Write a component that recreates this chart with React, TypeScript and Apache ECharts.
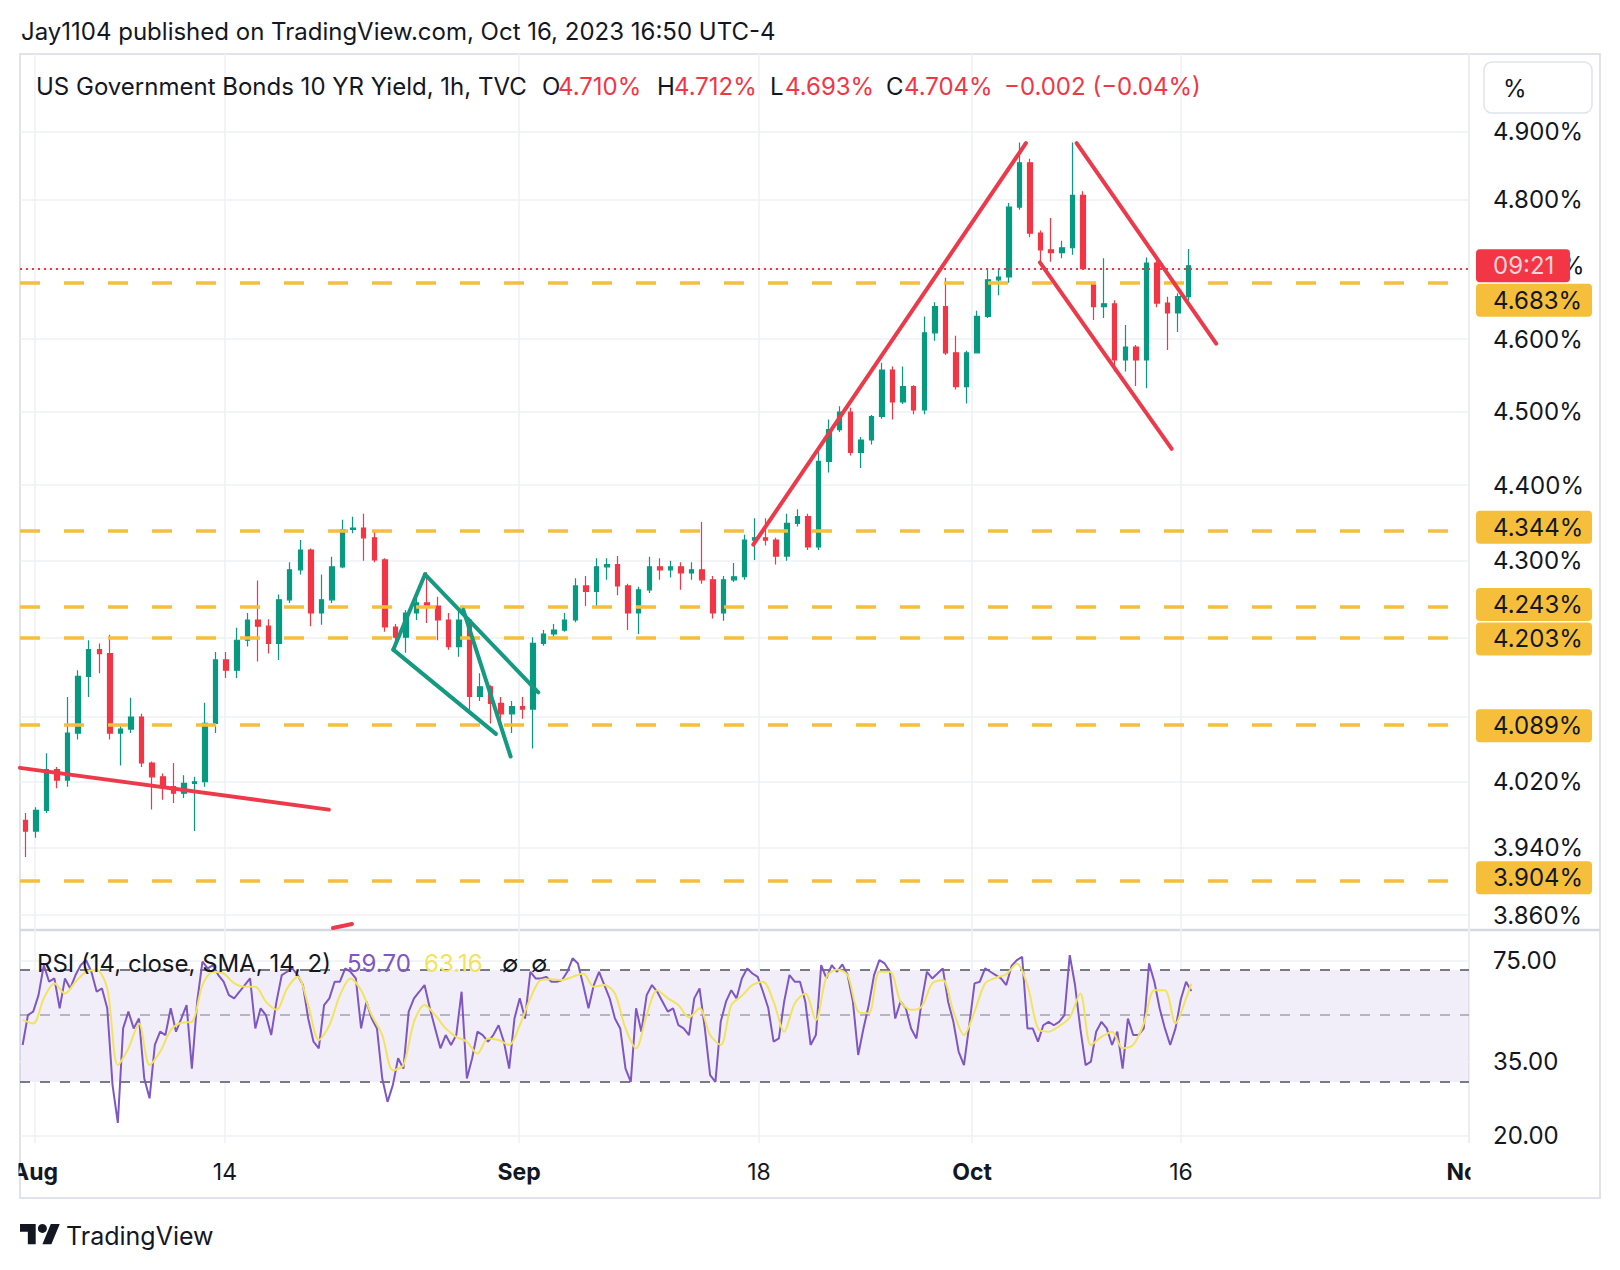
import React, { useEffect, useRef } from "react";
import * as echarts from "echarts";

// ---------- data (half-session OHLC) ----------
const opens = [
  3.973, 3.96, 3.985, 4.035, 4.022, 4.08, 4.151, 4.185, 4.18, 4.08,
  4.085, 4.1, 4.043, 4.026, 4.014, 4.006, 4.018, 4.02, 4.092, 4.172,
  4.159, 4.197, 4.223, 4.215, 4.193, 4.249, 4.288, 4.314, 4.232, 4.249,
  4.292, 4.341, 4.343, 4.33, 4.301, 4.214, 4.201, 4.232, 4.245, 4.241,
  4.223, 4.189, 4.223, 4.126, 4.138, 4.117, 4.104, 4.113, 4.11, 4.193,
  4.205, 4.21, 4.223, 4.267, 4.26, 4.292, 4.295, 4.267, 4.232, 4.262,
  4.292, 4.288, 4.292, 4.284, 4.288, 4.275, 4.232, 4.275, 4.279, 4.327,
  4.33, 4.327, 4.306, 4.349, 4.358, 4.318, 4.432, 4.475, 4.499, 4.444,
  4.461, 4.493, 4.557, 4.513, 4.534, 4.502, 4.609, 4.646, 4.581, 4.534,
  4.581, 4.632, 4.684, 4.688, 4.789, 4.854, 4.751, 4.727, 4.723, 4.73,
  4.806, 4.678, 4.646, 4.65, 4.571, 4.589, 4.571, 4.708, 4.651, 4.637, 4.66,
];
const highs = [
  3.982, 3.989, 4.055, 4.038, 4.125, 4.159, 4.197, 4.193, 4.204, 4.09,
  4.124, 4.104, 4.045, 4.03, 4.043, 4.028, 4.026, 4.118, 4.182, 4.182,
  4.213, 4.232, 4.274, 4.224, 4.256, 4.298, 4.327, 4.316, 4.282, 4.305,
  4.354, 4.358, 4.362, 4.338, 4.303, 4.218, 4.236, 4.252, 4.285, 4.253,
  4.232, 4.236, 4.226, 4.155, 4.14, 4.125, 4.12, 4.125, 4.201, 4.21,
  4.218, 4.232, 4.277, 4.28, 4.303, 4.303, 4.306, 4.27, 4.266, 4.305,
  4.303, 4.3, 4.298, 4.298, 4.351, 4.28, 4.28, 4.297, 4.334, 4.356,
  4.356, 4.33, 4.362, 4.368, 4.362, 4.445, 4.489, 4.507, 4.505, 4.465,
  4.495, 4.567, 4.562, 4.562, 4.536, 4.632, 4.652, 4.687, 4.605, 4.584,
  4.64, 4.698, 4.7, 4.795, 4.884, 4.86, 4.755, 4.773, 4.74, 4.884,
  4.812, 4.68, 4.715, 4.655, 4.62, 4.592, 4.716, 4.716, 4.66, 4.665, 4.728,
];
const lows = [
  3.929, 3.952, 3.982, 4.012, 4.014, 4.072, 4.125, 4.155, 4.072, 4.04,
  4.08, 4.038, 3.986, 3.998, 3.994, 4.0, 3.96, 4.014, 4.08, 4.149,
  4.149, 4.189, 4.17, 4.18, 4.172, 4.245, 4.282, 4.215, 4.217, 4.245,
  4.29, 4.336, 4.3, 4.298, 4.208, 4.187, 4.181, 4.223, 4.219, 4.197,
  4.185, 4.176, 4.109, 4.12, 4.092, 4.085, 4.08, 4.098, 4.061, 4.19,
  4.2, 4.208, 4.22, 4.241, 4.241, 4.275, 4.255, 4.21, 4.205, 4.258,
  4.275, 4.278, 4.262, 4.275, 4.27, 4.225, 4.222, 4.272, 4.275, 4.301,
  4.32, 4.295, 4.3, 4.345, 4.314, 4.314, 4.417, 4.472, 4.44, 4.423,
  4.455, 4.49, 4.489, 4.51, 4.496, 4.496, 4.598, 4.578, 4.53, 4.511,
  4.58, 4.63, 4.662, 4.68, 4.785, 4.745, 4.71, 4.71, 4.715, 4.72,
  4.7, 4.627, 4.63, 4.555, 4.555, 4.535, 4.532, 4.645, 4.585, 4.61, 4.655,
];
const closes = [
  3.96, 3.985, 4.035, 4.022, 4.08, 4.151, 4.185, 4.18, 4.08, 4.085,
  4.1, 4.043, 4.026, 4.014, 4.006, 4.018, 4.02, 4.092, 4.172, 4.159,
  4.197, 4.223, 4.215, 4.193, 4.249, 4.288, 4.314, 4.232, 4.249, 4.292,
  4.341, 4.343, 4.33, 4.301, 4.214, 4.201, 4.232, 4.245, 4.241, 4.223,
  4.189, 4.223, 4.126, 4.138, 4.117, 4.104, 4.113, 4.11, 4.193, 4.205,
  4.21, 4.223, 4.267, 4.26, 4.292, 4.295, 4.267, 4.232, 4.262, 4.292,
  4.288, 4.292, 4.284, 4.288, 4.275, 4.232, 4.275, 4.279, 4.327, 4.33,
  4.327, 4.306, 4.349, 4.358, 4.318, 4.432, 4.475, 4.499, 4.444, 4.461,
  4.493, 4.557, 4.513, 4.534, 4.502, 4.609, 4.646, 4.581, 4.534, 4.581,
  4.632, 4.684, 4.688, 4.789, 4.854, 4.751, 4.727, 4.723, 4.73, 4.806,
  4.7, 4.646, 4.65, 4.571, 4.589, 4.571, 4.708, 4.651, 4.637, 4.66, 4.704,
];

// RSI(14): two samples per half-session slot
const rsiValues = [
  39.7, 49.8, 51.1, 57.9, 72.7, 64.1, 65.7, 52.4, 65.7, 60.9,
  67.4, 72.7, 75.5, 69.1, 59.4, 60.9, 52.4, 29.3, 22.0, 45.0,
  51.1, 45.0, 48.5, 30.8, 26.5, 39.7, 43.9, 42.8, 52.4, 43.9,
  48.5, 53.7, 33.2, 55.1, 74.6, 70.9, 72.7, 67.4, 64.1, 57.9,
  56.5, 59.4, 62.5, 65.7, 45.0, 52.4, 49.8, 42.8, 55.1, 67.4,
  69.1, 70.9, 67.4, 62.5, 48.5, 40.7, 38.7, 53.7, 56.5, 64.1,
  64.1, 70.9, 69.1, 65.7, 45.0, 55.1, 48.5, 45.0, 30.8, 25.8,
  29.3, 35.9, 33.2, 51.1, 56.5, 59.4, 62.5, 52.4, 45.0, 38.7,
  42.8, 39.7, 42.8, 59.4, 30.8, 35.9, 43.9, 42.8, 40.7, 42.8,
  46.1, 40.7, 33.2, 48.5, 56.5, 48.5, 69.1, 65.7, 65.7, 66.5,
  64.1, 64.1, 64.9, 69.1, 76.5, 73.6, 62.5, 52.4, 62.5, 69.1,
  62.5, 56.5, 48.5, 45.0, 33.2, 30.0, 52.4, 43.9, 57.9, 62.5,
  59.4, 55.1, 51.1, 52.4, 46.1, 45.0, 42.8, 56.5, 60.9, 45.0,
  31.6, 30.0, 47.3, 55.1, 60.1, 56.5, 65.7, 70.9, 68.2, 66.5,
  59.4, 52.4, 40.7, 41.7, 55.1, 67.4, 64.1, 64.1, 55.1, 39.7,
  42.8, 72.7, 65.7, 72.7, 69.1, 73.1, 67.4, 55.1, 36.8, 45.0,
  53.7, 67.4, 75.5, 73.6, 69.1, 48.5, 55.1, 52.4, 45.0, 41.7,
  55.1, 69.1, 65.7, 68.2, 70.9, 55.1, 47.3, 37.7, 34.1, 46.1,
  63.3, 64.1, 70.9, 69.1, 67.4, 65.7, 62.5, 72.2, 75.5, 77.4,
  45.0, 45.0, 40.7, 46.1, 47.3, 46.1, 47.3, 49.8, 78.4, 62.5,
  45.0, 34.1, 35.0, 43.9, 47.3, 45.0, 39.7, 43.9, 33.2, 48.5,
  42.8, 42.8, 45.0, 73.6, 64.1, 52.4, 45.0, 39.7, 45.0, 56.0,
  64.1, 59.7,
];
// RSI-based SMA(14): one sample per slot, plus the last value
const rsiSmaValues = [
  48.0, 46.7, 56.5, 63.3, 58.6, 64.1, 69.1, 70.0, 60.9, 34.1,
  38.7, 46.7, 34.1, 37.7, 44.4, 47.0, 47.3, 62.5, 69.1, 68.2,
  63.3, 61.7, 61.7, 55.1, 51.8, 60.9, 66.5, 53.7, 41.2, 46.1,
  57.9, 65.7, 60.1, 49.8, 42.8, 32.8, 34.1, 47.3, 53.7, 49.8,
  45.0, 42.2, 40.7, 37.2, 41.7, 41.2, 39.7, 46.1, 56.5, 64.9,
  65.3, 64.9, 66.5, 68.2, 61.7, 62.5, 58.6, 45.0, 38.7, 49.8,
  60.1, 56.5, 53.7, 48.9, 52.4, 42.8, 39.7, 53.7, 57.6, 62.5,
  64.1, 55.1, 43.9, 54.4, 58.6, 47.9, 66.5, 70.3, 67.4, 51.1,
  50.5, 69.1, 69.1, 55.1, 51.8, 53.1, 63.3, 64.9, 51.1, 42.8,
  51.1, 63.3, 66.0, 67.8, 73.6, 62.5, 45.0, 43.9, 45.8, 48.9,
  58.6, 39.7, 42.2, 43.9, 38.7, 39.7, 46.7, 60.1, 60.1, 46.7, 56.5,
];
const rsiSmaLast = 63.16;
const rsiLast = 59.7;

const priceTicks = [4.9, 4.8, 4.6, 4.5, 4.4, 4.3, 4.02, 3.94, 3.86];
const priceGrid = [4.9, 4.8, 4.7, 4.6, 4.5, 4.4, 4.3, 4.2, 4.1, 4.02, 3.94, 3.86];
const levelLines = [4.683, 4.344, 4.243, 4.203, 4.089, 3.904];
const lastPrice = 4.704;
const rsiTicks = [75, 35, 20];
const rsiGrid = [75, 35, 20];
const rsiBandUpper = 70;
const rsiBandMid = 50;
const rsiBandLower = 30;
// time ticks in slot units (two slots per trading day)
const timeTickPos = [0.918, 18.88, 46.68, 69.37, 89.51, 109.27, 136.5];
const timeTickLabels = ["Aug", "14", "Sep", "18", "Oct", "16", "Nov"];
const timeTickIsMonth = [true, false, true, false, true, false, true];
const timeGridPos = [0.918, 18.88, 46.68, 69.37, 89.51, 109.27];

// drawings: [[slot, price], [slot, price]]
const redTrendLines = [
  [[-0.5, 4.037], [28.7, 3.986]],
  [[68.83, 4.321], [94.61, 4.883]],
  [[99.4, 4.883], [112.6, 4.594]],
  [[95.93, 4.709], [108.39, 4.449]],
  [[29.09, 3.8448], [30.89, 3.8495]],
];
const greenTrendLines = [
  [[34.79, 4.185], [37.79, 4.282]],
  [[37.79, 4.282], [48.5, 4.131]],
  [[34.79, 4.185], [44.5, 4.079]],
  [[41.41, 4.236], [45.89, 4.051]],
];

const X_MIN = -0.5;
const X_MAX = 136.5;
const PRICE_MIN = 3.8425;
const PRICE_MAX = 5.0175;
const RSI_MIN = 18.9;
const RSI_MAX = 94.8;

const FONT = "Inter";
const TXT = "#131722";
const UP = "#089981";
const DOWN = "#f23645";
const YELLOW = "#f5bf3b";
const GRID = "#eef0f4";

function text(x: number, y: number, s: string, size: number, fill = TXT, weight = "normal", z = 100) {
  return {
    type: "text",
    x,
    y,
    z,
    silent: true,
    style: {
      text: s,
      fill,
      fontSize: size,
      fontFamily: FONT,
      fontWeight: weight,
      align: "left",
      verticalAlign: "middle",
      textAlign: "left",
      textVerticalAlign: "middle",
    },
  };
}

function buildOption() {
  const candleData = opens.map((o, i) => [i, o, closes[i], lows[i], highs[i]]);
  const rsiData = rsiValues.map((v, j) => [j / 2 - 0.25, v]);
  const smaData = rsiSmaValues.map((v, s) => [s - 0.25, v]);
  smaData.push([110.25, rsiSmaLast]);

  const lineTo = (pairs: number[][][]) =>
    pairs.map((p) => [{ coord: p[0] }, { coord: p[1] }]);

  return {
    animation: false,
    backgroundColor: "#ffffff",
    textStyle: { fontFamily: FONT },
    grid: [
      { left: 20, top: 54, width: 1449, height: 876 },
      { left: 20, top: 930, width: 1449, height: 213 },
    ],
    xAxis: [
      {
        type: "value",
        gridIndex: 0,
        min: X_MIN,
        max: X_MAX,
        axisLine: { show: false },
        axisTick: { show: false },
        axisLabel: { show: false },
        splitLine: { show: false },
      },
      {
        type: "value",
        gridIndex: 1,
        min: X_MIN,
        max: X_MAX,
        axisLine: { show: false },
        axisTick: { show: false },
        splitLine: { show: false },
        axisLabel: {
          show: true,
          customValues: timeTickPos,
          margin: 17,
          formatter: (v: number) => {
            const k = timeTickPos.findIndex((p) => Math.abs(p - v) < 1e-6);
            if (k < 0) return "";
            return timeTickIsMonth[k] ? `{m|${timeTickLabels[k]}}` : `{d|${timeTickLabels[k]}}`;
          },
          rich: {
            m: { fontSize: 23, fontWeight: "bold", color: TXT, fontFamily: FONT },
            d: { fontSize: 23, color: TXT, fontFamily: FONT },
          },
        },
      },
    ],
    yAxis: [
      {
        type: "log",
        gridIndex: 0,
        position: "right",
        min: PRICE_MIN,
        max: PRICE_MAX,
        axisLine: { show: false },
        axisTick: { show: false },
        splitLine: { show: false },
        axisLabel: {
          customValues: priceTicks,
          margin: 24,
          fontSize: 24,
          color: TXT,
          fontFamily: FONT,
          formatter: (v: number) => v.toFixed(3) + "%",
        },
      },
      {
        type: "log",
        gridIndex: 1,
        position: "right",
        min: RSI_MIN,
        max: RSI_MAX,
        axisLine: { show: false },
        axisTick: { show: false },
        splitLine: { show: false },
        axisLabel: {
          customValues: rsiTicks,
          margin: 24,
          fontSize: 24,
          color: TXT,
          fontFamily: FONT,
          formatter: (v: number) => v.toFixed(2),
        },
      },
    ],
    series: [
      {
        name: "priceGrid",
        type: "line",
        xAxisIndex: 0,
        yAxisIndex: 0,
        data: [],
        silent: true,
        markLine: {
          z: 1,
          silent: true,
          symbol: ["none", "none"],
          label: { show: false },
          lineStyle: { color: GRID, width: 1.5, type: "solid" },
          data: [
            ...priceGrid.map((v) => ({ yAxis: v })),
            ...timeGridPos.map((x) => ({ xAxis: x })),
          ],
        },
      },
      {
        name: "US10Y",
        type: "candlestick",
        xAxisIndex: 0,
        yAxisIndex: 0,
        z: 2,
        barWidth: 5,
        encode: { x: 0, y: [1, 2, 3, 4] },
        data: candleData,
        itemStyle: {
          color: UP,
          color0: DOWN,
          borderColor: UP,
          borderColor0: DOWN,
          borderWidth: 1.2,
        },
      },
      {
        name: "levels",
        type: "line",
        xAxisIndex: 0,
        yAxisIndex: 0,
        data: [],
        silent: true,
        markLine: {
          z: 6,
          silent: true,
          symbol: ["none", "none"],
          label: { show: false },
          lineStyle: { color: YELLOW, width: 3.5, type: [20, 24] },
          data: levelLines.map((v) => ({ yAxis: v })),
        },
      },
      {
        name: "last",
        type: "line",
        xAxisIndex: 0,
        yAxisIndex: 0,
        data: [],
        silent: true,
        markLine: {
          z: 6,
          silent: true,
          symbol: ["none", "none"],
          label: { show: false },
          lineStyle: { color: DOWN, width: 2, type: [2, 4] },
          data: [{ yAxis: lastPrice }],
        },
      },
      {
        name: "redDrawings",
        type: "line",
        xAxisIndex: 0,
        yAxisIndex: 0,
        data: [],
        silent: true,
        markLine: {
          z: 7,
          silent: true,
          symbol: ["none", "none"],
          label: { show: false },
          lineStyle: { color: "#ec3a4b", width: 4, type: "solid", cap: "round" },
          data: lineTo(redTrendLines),
        },
      },
      {
        name: "greenDrawings",
        type: "line",
        xAxisIndex: 0,
        yAxisIndex: 0,
        data: [],
        silent: true,
        markLine: {
          z: 7,
          silent: true,
          symbol: ["none", "none"],
          label: { show: false },
          lineStyle: { color: "#139a80", width: 4, type: "solid", cap: "round" },
          data: lineTo(greenTrendLines),
        },
      },
      {
        name: "rsiGrid",
        type: "line",
        xAxisIndex: 1,
        yAxisIndex: 1,
        data: [],
        silent: true,
        markArea: {
          z: 1,
          silent: true,
          itemStyle: { color: "rgba(126,87,194,0.1)" },
          data: [[{ yAxis: rsiBandLower }, { yAxis: rsiBandUpper }]],
        },
        markLine: {
          z: 1,
          silent: true,
          symbol: ["none", "none"],
          label: { show: false },
          lineStyle: { color: GRID, width: 1.5, type: "solid" },
          data: [
            ...rsiGrid.map((v) => ({ yAxis: v })),
            ...timeGridPos.map((x) => ({ xAxis: x })),
          ],
        },
      },
      {
        name: "rsiBands",
        type: "line",
        xAxisIndex: 1,
        yAxisIndex: 1,
        data: [],
        silent: true,
        markLine: {
          z: 2,
          silent: true,
          symbol: ["none", "none"],
          label: { show: false },
          lineStyle: { color: "#787b86", width: 2, type: [10, 10] },
          data: [
            { yAxis: rsiBandUpper },
            { yAxis: rsiBandLower },
            { yAxis: rsiBandMid, lineStyle: { color: "rgba(120,123,134,0.5)", width: 2, type: [10, 10] } },
          ],
        },
      },
      {
        name: "RSI",
        type: "line",
        xAxisIndex: 1,
        yAxisIndex: 1,
        z: 3,
        data: rsiData,
        showSymbol: false,
        symbol: "none",
        lineStyle: { color: "#7e57c2", width: 2 },
      },
      {
        name: "RSI-based MA",
        type: "line",
        xAxisIndex: 1,
        yAxisIndex: 1,
        z: 4,
        data: smaData,
        showSymbol: false,
        symbol: "none",
        smooth: 0.3,
        lineStyle: { color: "#f2e35f", width: 2 },
      },
    ],
  };
}

function staticGraphics() {
  const g: any[] = [];
  // frame
  g.push({
    type: "rect",
    z: 0,
    silent: true,
    shape: { x: 20, y: 54, width: 1580, height: 1144 },
    style: { fill: "none", stroke: "#e0e3eb", lineWidth: 2 },
  });
  g.push({
    type: "line",
    z: 0,
    silent: true,
    shape: { x1: 20, y1: 930, x2: 1600, y2: 930 },
    style: { stroke: "#d6d9e0", lineWidth: 2.5 },
  });
  g.push({
    type: "line",
    z: 0,
    silent: true,
    shape: { x1: 1469, y1: 54, x2: 1469, y2: 1143 },
    style: { stroke: "#eceef2", lineWidth: 2 },
  });
  // title
  g.push(text(21, 31, "Jay1104 published on TradingView.com, Oct 16, 2023 16:50 UTC-4", 24));
  // legend header
  g.push(text(36, 86, "US Government Bonds 10 YR Yield, 1h, TVC", 24));
  g.push(text(542, 86, "O", 24));
  g.push(text(558, 86, "4.710%", 24, DOWN));
  g.push(text(657, 86, "H", 24));
  g.push(text(674, 86, "4.712%", 24, DOWN));
  g.push(text(770, 86, "L", 24));
  g.push(text(785, 86, "4.693%", 24, DOWN));
  g.push(text(886, 86, "C", 24));
  g.push(text(904, 86, "4.704%", 24, DOWN));
  g.push(text(1004, 86, "\u22120.002 (\u22120.04%)", 24, DOWN));
  // % box
  g.push({
    type: "rect",
    z: 50,
    silent: true,
    shape: { x: 1484, y: 62, width: 108, height: 51, r: 8 },
    style: { fill: "#ffffff", stroke: "#e0e3eb", lineWidth: 1.5 },
  });
  g.push(text(1503, 88, "%", 24));
  // RSI legend
  g.push(text(37, 963, "RSI (14, close, SMA, 14, 2)", 24));
  g.push(text(347, 963, rsiLast.toFixed(2), 24, "#7e57c2"));
  g.push(text(424, 963, rsiSmaLast.toFixed(2), 24, "#f2e35f"));
  g.push(text(502, 963, "\u2205", 24));
  g.push(text(531, 963, "\u2205", 24));
  // clip covers for the time axis labels
  g.push({
    type: "rect",
    z: 120,
    silent: true,
    shape: { x: 1470.5, y: 1148, width: 128, height: 48 },
    style: { fill: "#ffffff" },
  });
  g.push({
    type: "rect",
    z: 120,
    silent: true,
    shape: { x: 0, y: 1148, width: 18.5, height: 48 },
    style: { fill: "#ffffff" },
  });
  // TradingView logo
  g.push({
    type: "group",
    x: 20,
    y: 1219.5,
    scaleX: 1.12,
    scaleY: 1.12,
    silent: true,
    z: 100,
    children: [
      {
        type: "polygon",
        z: 100,
        shape: { points: [[14, 22], [7, 22], [7, 11], [0, 11], [0, 4], [14, 4]] },
        style: { fill: TXT },
      },
      {
        type: "polygon",
        z: 100,
        shape: { points: [[28, 22], [20, 22], [27.5, 4], [35.5, 4]] },
        style: { fill: TXT },
      },
      { type: "circle", z: 100, shape: { cx: 20, cy: 8, r: 4 }, style: { fill: TXT } },
    ],
  });
  g.push(text(66, 1236, "TradingView", 25));
  return g;
}

export default function App() {
  const ref = useRef<HTMLDivElement>(null);
  useEffect(() => {
    const el = ref.current;
    if (!el) return;
    const chart = echarts.init(el, undefined, { renderer: "svg", width: 1620, height: 1270 });
    chart.setOption(buildOption() as any);

    const py = (v: number) => chart.convertToPixel({ yAxisIndex: 0 } as any, v) as unknown as number;
    const H = 33;
    const items = [
      { v: lastPrice, kind: "last", y: py(lastPrice), top: 0 },
      ...levelLines.map((v) => ({ v, kind: "level", y: py(v), top: 0 })),
    ].sort((a, b) => a.y - b.y);
    let prevBottom = -1e9;
    for (const it of items) {
      let top = it.y - H / 2;
      if (top < prevBottom + 1.5) top = prevBottom + 1.5;
      it.top = top;
      prevBottom = top + H;
    }
    const labels: any[] = [];
    for (const it of items) {
      if (it.kind === "last") {
        labels.push(text(1561, it.y, "%", 24, TXT, "normal", 110));
        labels.push({
          type: "rect",
          z: 111,
          silent: true,
          shape: { x: 1476, y: it.top, width: 94, height: H, r: 4 },
          style: { fill: "#f23645" },
        });
        labels.push(text(1493, it.top + H / 2, "09:21", 24, "rgba(255,255,255,0.78)", "normal", 112));
      } else {
        labels.push({
          type: "rect",
          z: 111,
          silent: true,
          shape: { x: 1476, y: it.top, width: 116, height: H, r: 4 },
          style: { fill: YELLOW },
        });
        labels.push(text(1493, it.top + H / 2, it.v.toFixed(3) + "%", 24, TXT, "normal", 112));
      }
    }
    chart.setOption({ graphic: [...staticGraphics(), ...labels] } as any);
    return () => chart.dispose();
  }, []);
  return (
    <div
      ref={ref}
      style={{ position: "absolute", left: 0, top: 0, width: 1620, height: 1270, background: "#fff" }}
    />
  );
}
